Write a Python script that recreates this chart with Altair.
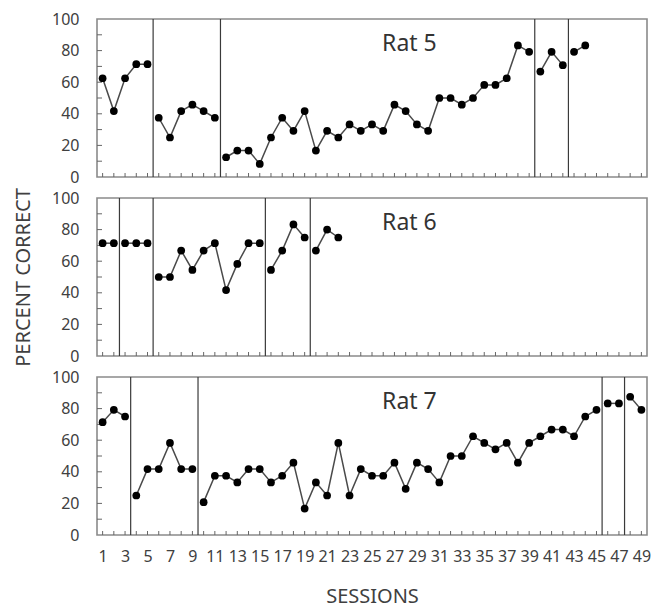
import altair as alt
import pandas as pd

# ---- data ----
rat5_pct = [62.5, 41.7, 62.5, 71.4, 71.4,
            37.5, 25.0, 41.7, 45.8, 41.7, 37.5,
            12.5, 16.7, 16.7, 8.3, 25.0, 37.5, 29.2, 41.7, 16.7, 29.2,
            25.0, 33.3, 29.2, 33.3, 29.2, 45.8, 41.7, 33.3, 29.2, 50.0,
            50.0, 45.8, 50.0, 58.3, 58.3, 62.5, 83.3, 79.2,
            66.7, 79.2, 70.8,
            79.2, 83.3]
rat5_phase_lines = [5.5, 11.5, 39.5, 42.5]

rat6_pct = [71.4, 71.4,
            71.4, 71.4, 71.4,
            50.0, 50.0, 66.7, 54.5, 66.7, 71.4, 41.7, 58.3, 71.4, 71.4,
            54.5, 66.7, 83.3, 75.0,
            66.7, 80.0, 75.0]
rat6_phase_lines = [2.5, 5.5, 15.5, 19.5]

rat7_pct = [71.4, 79.2, 75.0,
            25.0, 41.7, 41.7, 58.3, 41.7, 41.7,
            20.8, 37.5, 37.5, 33.3, 41.7, 41.7, 33.3, 37.5, 45.8, 16.7,
            33.3, 25.0, 58.3, 25.0, 41.7, 37.5, 37.5, 45.8, 29.2, 45.8,
            41.7, 33.3, 50.0, 50.0, 62.5, 58.3, 54.2, 58.3, 45.8, 58.3,
            62.5, 66.7, 66.7, 62.5, 75.0, 79.2,
            83.3, 83.3,
            87.5, 79.2]
rat7_phase_lines = [3.5, 9.5, 45.5, 47.5]

panel_names = ["Rat 5", "Rat 6", "Rat 7"]
session_ticks = list(range(1, 50))
session_labels = list(range(1, 50, 2))
pct_labels = [0, 20, 40, 60, 80, 100]
pct_minor_ticks = [10, 20, 30, 40, 50, 60, 70, 80, 90]

FONT = "Noto Sans"
W, H = 550, 158
TXT = "#404040"


def panel(name, values, lines, x_axis, y_title):
    df = pd.DataFrame({"session": list(range(1, len(values) + 1)), "pct": values})
    df["phase"] = [sum(s > b for b in lines) for s in df["session"]]

    xs = alt.Scale(domain=[0.5, 49.5], nice=False, zero=False)
    ys = alt.Scale(domain=[0, 100], nice=False)
    y_axis = alt.Axis(values=pct_labels, ticks=False, domain=False, grid=False,
                      labelFontSize=16, labelFont=FONT, labelColor=TXT,
                      labelPadding=18,
                      title=y_title if y_title else None,
                      titleFontSize=20, titleFont=FONT, titleFontWeight="normal",
                      titleColor=TXT, titlePadding=18)
    X = alt.X("session:Q", scale=xs, axis=x_axis)
    Y = alt.Y("pct:Q", scale=ys, axis=y_axis)

    line = alt.Chart(df).mark_line(color="#4a4a4a", strokeWidth=1.5).encode(
        x=X, y=Y, detail="phase:N")
    pts = alt.Chart(df).mark_circle(color="black", size=60, opacity=1).encode(x=X, y=Y)
    phase = alt.Chart(pd.DataFrame({"session": lines})).mark_rule(
        color="#3a3a3a", strokeWidth=1.2).encode(x=X)
    xt = alt.Chart(pd.DataFrame({"session": session_ticks})).mark_rule(
        color="#666666", strokeWidth=1).encode(x=X, y=alt.value(H), y2=alt.value(H - 4))
    yt = alt.Chart(pd.DataFrame({"pct": pct_minor_ticks})).mark_rule(
        color="#666666", strokeWidth=1).encode(y=Y, x=alt.value(0), x2=alt.value(5))
    lab = alt.Chart(pd.DataFrame({"session": [25.9], "pct": [80.0], "label": [name]})).mark_text(
        align="left", baseline="alphabetic", fontSize=23, font=FONT, color="#333333"
    ).encode(x=X, y=Y, text="label:N")
    return alt.layer(phase, xt, yt, line, pts, lab).properties(width=W, height=H)


bottom_axis = alt.Axis(values=session_labels, ticks=False, domain=False, grid=False,
                       labelFontSize=16, labelFont=FONT, labelColor=TXT, labelPadding=13,
                       labelFlush=False,
                       title="SESSIONS", titleFontSize=20, titleFont=FONT,
                       titleFontWeight="normal", titleColor=TXT, titlePadding=22)

p5 = panel(panel_names[0], rat5_pct, rat5_phase_lines, None, None)
p6 = panel(panel_names[1], rat6_pct, rat6_phase_lines, None, "PERCENT CORRECT")
p7 = panel(panel_names[2], rat7_pct, rat7_phase_lines, bottom_axis, None)

chart = alt.vconcat(p5, p6, p7, spacing=21, bounds="flush").properties(
    padding={"left": 12, "top": 10, "right": 5, "bottom": 5},
    background="white",
).configure_view(stroke="#8a8a8a", strokeWidth=1.6)

chart.save("out.html", embed_options={"renderer": "svg", "actions": False})
